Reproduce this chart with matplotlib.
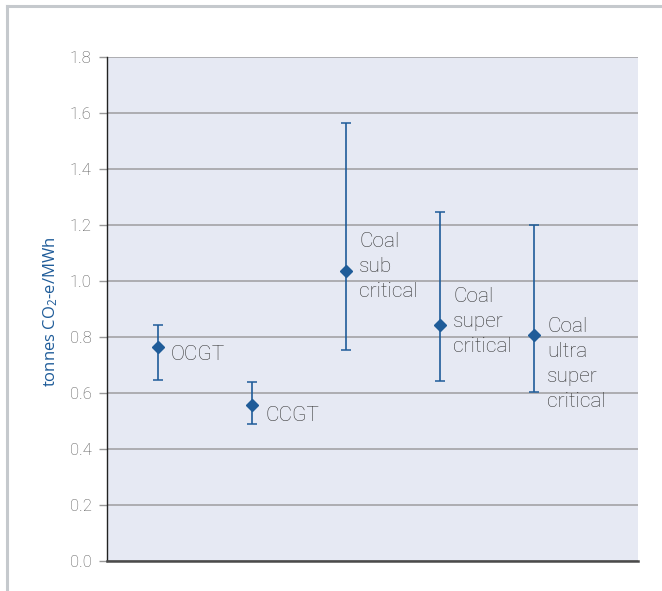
import matplotlib
matplotlib.use("Agg")
import matplotlib.pyplot as plt
from matplotlib.lines import Line2D

plt.rcParams['font.family'] = ['Roboto', 'DejaVu Sans']
plt.rcParams['mathtext.fontset'] = 'custom'
plt.rcParams['mathtext.rm'] = 'Open Sans'
plt.rcParams['mathtext.it'] = 'Open Sans'

categories = ["OCGT", "CCGT", "Coal\nsub\ncritical", "Coal\nsuper\ncritical", "Coal\nultra\nsuper\ncritical"]
central = [0.764, 0.557, 1.036, 0.843, 0.807]
upper = [0.843, 0.639, 1.564, 1.246, 1.200]
lower = [0.646, 0.489, 0.754, 0.643, 0.604]
yticks = [0.0, 0.2, 0.4, 0.6, 0.8, 1.0, 1.2, 1.4, 1.6, 1.8]

# label vertical offsets (pixels) relative to marker
label_dy = [-7, -10, 4, 3, -29]

blue = '#1f5c99'
fig = plt.figure(figsize=(6.62, 5.91), dpi=100)
ax = fig.add_axes([107/662, 30/591, 531/662, 504/591])
ax.set_facecolor('#e6e9f3')

x = list(range(len(categories)))
yerr = [[c - l for c, l in zip(central, lower)], [u - c for c, u in zip(central, upper)]]
ax.errorbar(x, central, yerr=yerr, fmt='D', color=blue, ecolor=blue,
            markersize=6.3, elinewidth=1.2, capsize=3.5, capthick=1.1, zorder=3)

for xi, yi, lab, dy in zip(x, central, categories, label_dy):
    ax.annotate(lab, (xi, yi), xytext=(13*0.72, dy*0.72), textcoords='offset points',
                ha='left', va='center', fontsize=15, color='#333333',
                fontweight='light', linespacing=1.4, zorder=4)

ax.set_xlim(-0.543, 5.106)
ax.set_ylim(0, 1.8)
ax.set_yticks(yticks)
ax.set_yticklabels([f"{v:.1f}" for v in yticks])
ax.set_xticks([])
ax.yaxis.grid(True, color='#a3a3a6', linewidth=1.2)
ax.set_axisbelow(True)
for s in ['top', 'right']:
    ax.spines[s].set_visible(False)
ax.spines['left'].set_color('#222222')
ax.spines['left'].set_linewidth(1.0)
ax.spines['bottom'].set_color('#4a4a4a')
ax.spines['bottom'].set_linewidth(1.8)
ax.tick_params(axis='y', length=6, width=1.0, color='#999999', pad=5,
               labelsize=12, labelcolor='#555555')
for t in ax.get_yticklabels():
    t.set_fontweight('light')

ax.set_ylabel('tonnes CO$_2$-e/MWh', color=blue, fontsize=12, family=['Open Sans', 'DejaVu Sans'],
              va='center', ha='center')
ax.yaxis.set_label_coords((51 - 107) / 531, (561 - 312) / 504)

# outer frame lines
fig.add_artist(Line2D([7/662, 7/662], [0, 1 - 6/591], transform=fig.transFigure,
                      color='#c5c9cd', linewidth=2.2))
fig.add_artist(Line2D([7/662, 1], [1 - 6/591, 1 - 6/591], transform=fig.transFigure,
                      color='#c5c9cd', linewidth=2.2))

fig.savefig('out.png', dpi=100)
